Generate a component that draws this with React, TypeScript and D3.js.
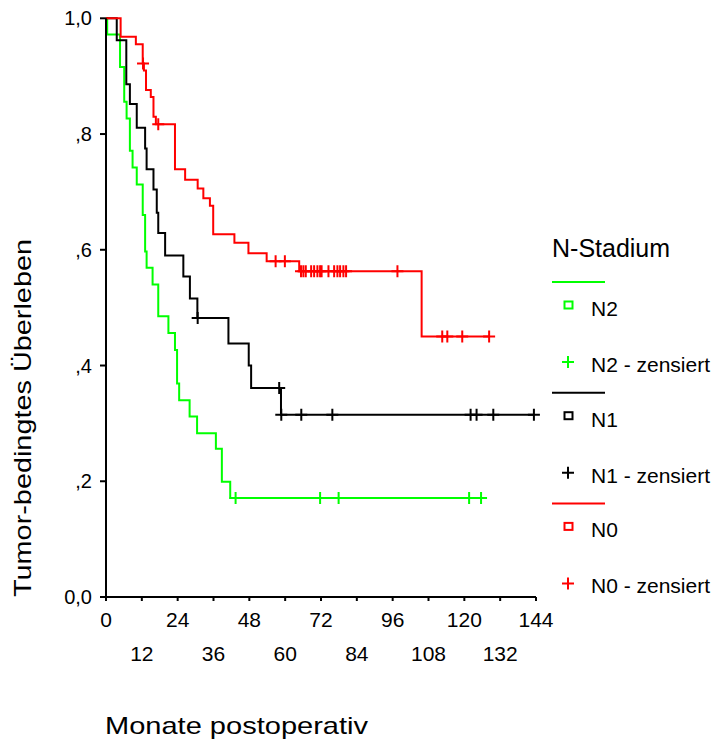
import React, { useEffect, useRef } from "react";
import * as d3 from "d3";

// Kaplan-Meier Kurven
const n2Times = [0.4, 4.7, 6.1, 6.9, 8.0, 8.9, 10.3, 12.3, 13.1, 13.6, 15.6, 17.5, 20.9, 23.1, 23.8, 24.5, 28.0, 30.5, 36.8, 38.8, 41.6];
const n2Surv = [0.972, 0.916, 0.856, 0.827, 0.771, 0.742, 0.713, 0.66, 0.597, 0.569, 0.54, 0.485, 0.456, 0.427, 0.369, 0.34, 0.312, 0.283, 0.256, 0.199, 0.171];
const n2Censored = [43.4, 71.7, 77.9, 121.6, 125.6];

const n1Times = [3.6, 6.8, 8.0, 10.3, 13.1, 13.6, 15.9, 17.0, 17.5, 19.8, 25.9, 28.1, 30.6, 41.0, 47.8, 48.6, 58.6];
const n1Surv = [0.962, 0.886, 0.852, 0.811, 0.775, 0.739, 0.704, 0.664, 0.629, 0.59, 0.554, 0.516, 0.482, 0.438, 0.4, 0.361, 0.315];
const n1Censored = [30.7, 58.0, 58.7, 65.4, 75.8, 122.1, 124.1, 129.7, 143.3];

const n0Times = [4.9, 10.0, 12.3, 12.7, 13.4, 15.0, 15.9, 16.7, 23.1, 26.5, 30.7, 32.6, 34.8, 35.9, 43.0, 47.7, 53.8, 64.7, 105.7];
const n0Surv = [0.968, 0.955, 0.922, 0.91, 0.876, 0.864, 0.83, 0.817, 0.739, 0.721, 0.706, 0.689, 0.676, 0.627, 0.612, 0.594, 0.58, 0.563, 0.45];
const n0Censored = [12.4, 17.5, 56.8, 59.9, 65.3, 66.1, 66.9, 68.7, 69.7, 70.8, 71.7, 72.2, 74.5, 76.4, 77.5, 78.4, 79.5, 80.4, 97.6, 112.6, 114.3, 119.3, 128.3];

const groupNames = ["N2", "N1", "N0"];
const groupColors = ["#00ff00", "#000000", "#ff0000"];

const xTicks = d3.range(0, 145, 12);
const yTicks = [0, 0.2, 0.4, 0.6, 0.8, 1.0];
const yTickLabels = ["0,0", ",2", ",4", ",6", ",8", "1,0"];

const FONT = "'Liberation Sans', Arial, sans-serif";

export default function App() {
  const ref = useRef<SVGSVGElement>(null);

  useEffect(() => {
    const svg = d3.select(ref.current);
    svg.selectAll("*").remove();

    const x = d3.scaleLinear().domain([0, 144]).range([106, 536]);
    const y = d3.scaleLinear().domain([0, 1]).range([597, 18.3]);

    const groups = [
      { times: n2Times, surv: n2Surv, cens: n2Censored },
      { times: n1Times, surv: n1Surv, cens: n1Censored },
      { times: n0Times, surv: n0Surv, cens: n0Censored },
    ];

    const survAt = (g, t) => {
      let s = 1;
      g.times.forEach((tt, i) => {
        if (tt <= t) s = g.surv[i];
      });
      return s;
    };

    const line = d3
      .line<[number, number]>()
      .x((d) => x(d[0]))
      .y((d) => y(d[1]))
      .curve(d3.curveStepAfter);

    // N2 first, N0 ends up on top as in the original
    [0, 1, 2].forEach((gi) => {
      const g = groups[gi];
      const color = groupColors[gi];
      const end = Math.max(d3.max(g.cens) || 0, d3.max(g.times) || 0);
      const pts: [number, number][] = [[0, 1]];
      g.times.forEach((t, i) => pts.push([t, g.surv[i]]));
      pts.push([end, g.surv[g.surv.length - 1]]);

      svg.append("path")
        .attr("d", line(pts))
        .attr("fill", "none")
        .attr("stroke", color)
        .attr("stroke-width", 2);

      svg.append("g")
        .selectAll("path")
        .data(g.cens)
        .join("path")
        .attr("d", (t) => {
          const cx = x(t);
          const cy = y(survAt(g, t));
          return `M${cx - 6},${cy}H${cx + 6}M${cx},${cy - 6}V${cy + 6}`;
        })
        .attr("stroke", color)
        .attr("stroke-width", 2)
        .attr("fill", "none");
    });

    // axes
    const axis = svg.append("g").attr("stroke", "#000");
    axis.append("line")
      .attr("x1", x(0)).attr("x2", x(0))
      .attr("y1", y(1)).attr("y2", y(0))
      .attr("stroke-width", 2);
    axis.append("line")
      .attr("x1", x(0)).attr("x2", x(144))
      .attr("y1", y(0)).attr("y2", y(0))
      .attr("stroke-width", 2);

    axis.selectAll("line.yt")
      .data(yTicks)
      .join("line")
      .attr("class", "yt")
      .attr("x1", x(0) - 6).attr("x2", x(0))
      .attr("y1", (d) => y(d)).attr("y2", (d) => y(d))
      .attr("stroke-width", 2);

    axis.selectAll("line.xt")
      .data(xTicks)
      .join("line")
      .attr("class", "xt")
      .attr("x1", (d) => x(d)).attr("x2", (d) => x(d))
      .attr("y1", y(0)).attr("y2", y(0) + 4)
      .attr("stroke-width", 2);

    svg.append("g")
      .selectAll("text")
      .data(yTicks)
      .join("text")
      .attr("x", 92)
      .attr("y", (d) => y(d) + 7)
      .attr("text-anchor", "end")
      .attr("font-family", FONT)
      .attr("font-size", 20)
      .text((d, i) => yTickLabels[i]);

    svg.append("g")
      .selectAll("text")
      .data(xTicks)
      .join("text")
      .attr("x", (d) => x(d))
      .attr("y", (d, i) => (i % 2 === 0 ? 627 : 661))
      .attr("text-anchor", "middle")
      .attr("font-family", FONT)
      .attr("font-size", 21)
      .text((d) => d);

    svg.append("text")
      .attr("x", 105)
      .attr("y", 734)
      .attr("font-family", FONT)
      .attr("font-size", 24)
      .attr("textLength", 263)
      .attr("lengthAdjust", "spacingAndGlyphs")
      .text("Monate postoperativ");

    svg.append("text")
      .attr("transform", "translate(31,597) rotate(-90)")
      .attr("font-family", FONT)
      .attr("font-size", 24)
      .attr("textLength", 358)
      .attr("lengthAdjust", "spacingAndGlyphs")
      .text("Tumor-bedingtes Überleben");

    // legend
    const legend = svg.append("g").attr("font-family", FONT);
    legend.append("text")
      .attr("x", 552)
      .attr("y", 257)
      .attr("font-size", 25)
      .text("N-Stadium");

    groupNames.forEach((name, i) => {
      const top = 282 + i * 110.7;
      const color = groupColors[i];
      legend.append("line")
        .attr("x1", 552).attr("x2", 605)
        .attr("y1", top).attr("y2", top)
        .attr("stroke", color).attr("stroke-width", 2);
      legend.append("rect")
        .attr("x", 564.5).attr("y", top + 19.5)
        .attr("width", 8).attr("height", 7)
        .attr("fill", "none")
        .attr("stroke", color).attr("stroke-width", 2);
      legend.append("text")
        .attr("x", 591).attr("y", top + 34)
        .attr("font-size", 21)
        .text(name);
      legend.append("path")
        .attr("d", `M${562},${top + 80}H${574}M${568},${top + 74}V${top + 86}`)
        .attr("stroke", color).attr("stroke-width", 2);
      legend.append("text")
        .attr("x", 591).attr("y", top + 90)
        .attr("font-size", 21)
        .text(`${name} - zensiert`);
    });
  }, []);

  return (
    <svg
      ref={ref}
      width={720}
      height={746}
      style={{ position: "absolute", left: 0, top: 0, background: "#fff" }}
    />
  );
}
